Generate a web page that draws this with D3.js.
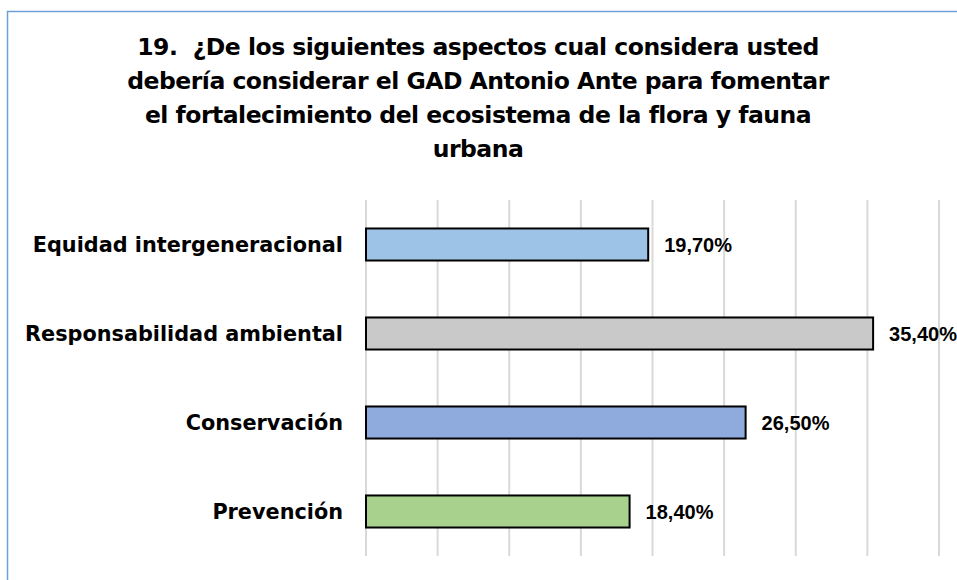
<!DOCTYPE html>
<html>
<head>
<meta charset="utf-8">
<script src="https://cdn.jsdelivr.net/npm/d3@7"></script>
<style>
  body { margin: 0; background: #fff; }
  #chart { width: 957px; height: 580px; }
  text { white-space: pre; }
</style>
</head>
<body>
<div id="chart"></div>
<script>
const categories = ['Equidad intergeneracional', 'Responsabilidad ambiental', 'Conservación', 'Prevención'];
const values = [19.7, 35.4, 26.5, 18.4];
const barColors = ['#9dc3e6', '#c9c9c9', '#8faadc', '#a9d18e'];
const titleLines = [
  '19.  ¿De los siguientes aspectos cual considera usted',
  'debería considerar el GAD Antonio Ante para fomentar',
  'el fortalecimiento del ecosistema de la flora y fauna',
  'urbana'
];
const xTicks = [0, 5, 10, 15, 20, 25, 30, 35, 40];

const width = 957;
const height = 580;
const plot = { left: 366, right: 939, top: 200, bottom: 556 };

const svg = d3
  .select('#chart')
  .append('svg')
  .attr('width', width)
  .attr('height', height);

// chart frame (runs off the right and bottom edges)
svg
  .append('rect')
  .attr('x', 7.5)
  .attr('y', 11.5)
  .attr('width', 1000)
  .attr('height', 1000)
  .attr('fill', 'none')
  .attr('stroke', '#6fa0d8')
  .attr('stroke-width', 1.5);

svg
  .append('text')
  .attr('text-anchor', 'middle')
  .attr('font-family', 'DejaVu Sans')
  .attr('font-weight', 'bold')
  .attr('font-size', 23.5)
  .attr('letter-spacing', -0.5)
  .attr('fill', '#000')
  .selectAll('tspan')
  .data(titleLines)
  .enter()
  .append('tspan')
  .attr('x', 478)
  .attr('y', (d, i) => 55 + i * 34)
  .text((d) => d);

const xScale = d3.scaleLinear().domain([0, 40]).range([plot.left, plot.right]);
const yScale = d3
  .scaleBand()
  .domain(categories)
  .range([plot.top, plot.bottom])
  .paddingInner(0.64)
  .paddingOuter(0.32);

svg
  .selectAll('.grid')
  .data(xTicks)
  .enter()
  .append('line')
  .attr('class', 'grid')
  .attr('x1', (d) => xScale(d))
  .attr('x2', (d) => xScale(d))
  .attr('y1', plot.top)
  .attr('y2', plot.bottom)
  .attr('stroke', '#d9d9d9')
  .attr('stroke-width', 2);

svg
  .selectAll('.bar')
  .data(values)
  .enter()
  .append('rect')
  .attr('class', 'bar')
  .attr('x', xScale(0))
  .attr('y', (d, i) => yScale(categories[i]))
  .attr('width', (d) => xScale(d) - xScale(0))
  .attr('height', yScale.bandwidth())
  .attr('fill', (d, i) => barColors[i])
  .attr('stroke', '#000')
  .attr('stroke-width', 2);

svg
  .selectAll('.cat')
  .data(categories)
  .enter()
  .append('text')
  .attr('class', 'cat')
  .attr('x', 343)
  .attr('y', (d) => yScale(d) + yScale.bandwidth() / 2)
  .attr('dy', '0.36em')
  .attr('text-anchor', 'end')
  .attr('font-family', 'DejaVu Sans')
  .attr('font-weight', 'bold')
  .attr('font-size', 20.8)
  .text((d) => d);

svg
  .selectAll('.value')
  .data(values)
  .enter()
  .append('text')
  .attr('class', 'value')
  .attr('x', (d) => xScale(d) + 16)
  .attr('y', (d, i) => yScale(categories[i]) + yScale.bandwidth() / 2)
  .attr('dy', '0.36em')
  .attr('font-family', 'Liberation Sans')
  .attr('font-weight', 'bold')
  .attr('font-size', 20)
  .text((d) => d3.format('.2f')(d).replace('.', ',') + '%');
</script>
</body>
</html>
